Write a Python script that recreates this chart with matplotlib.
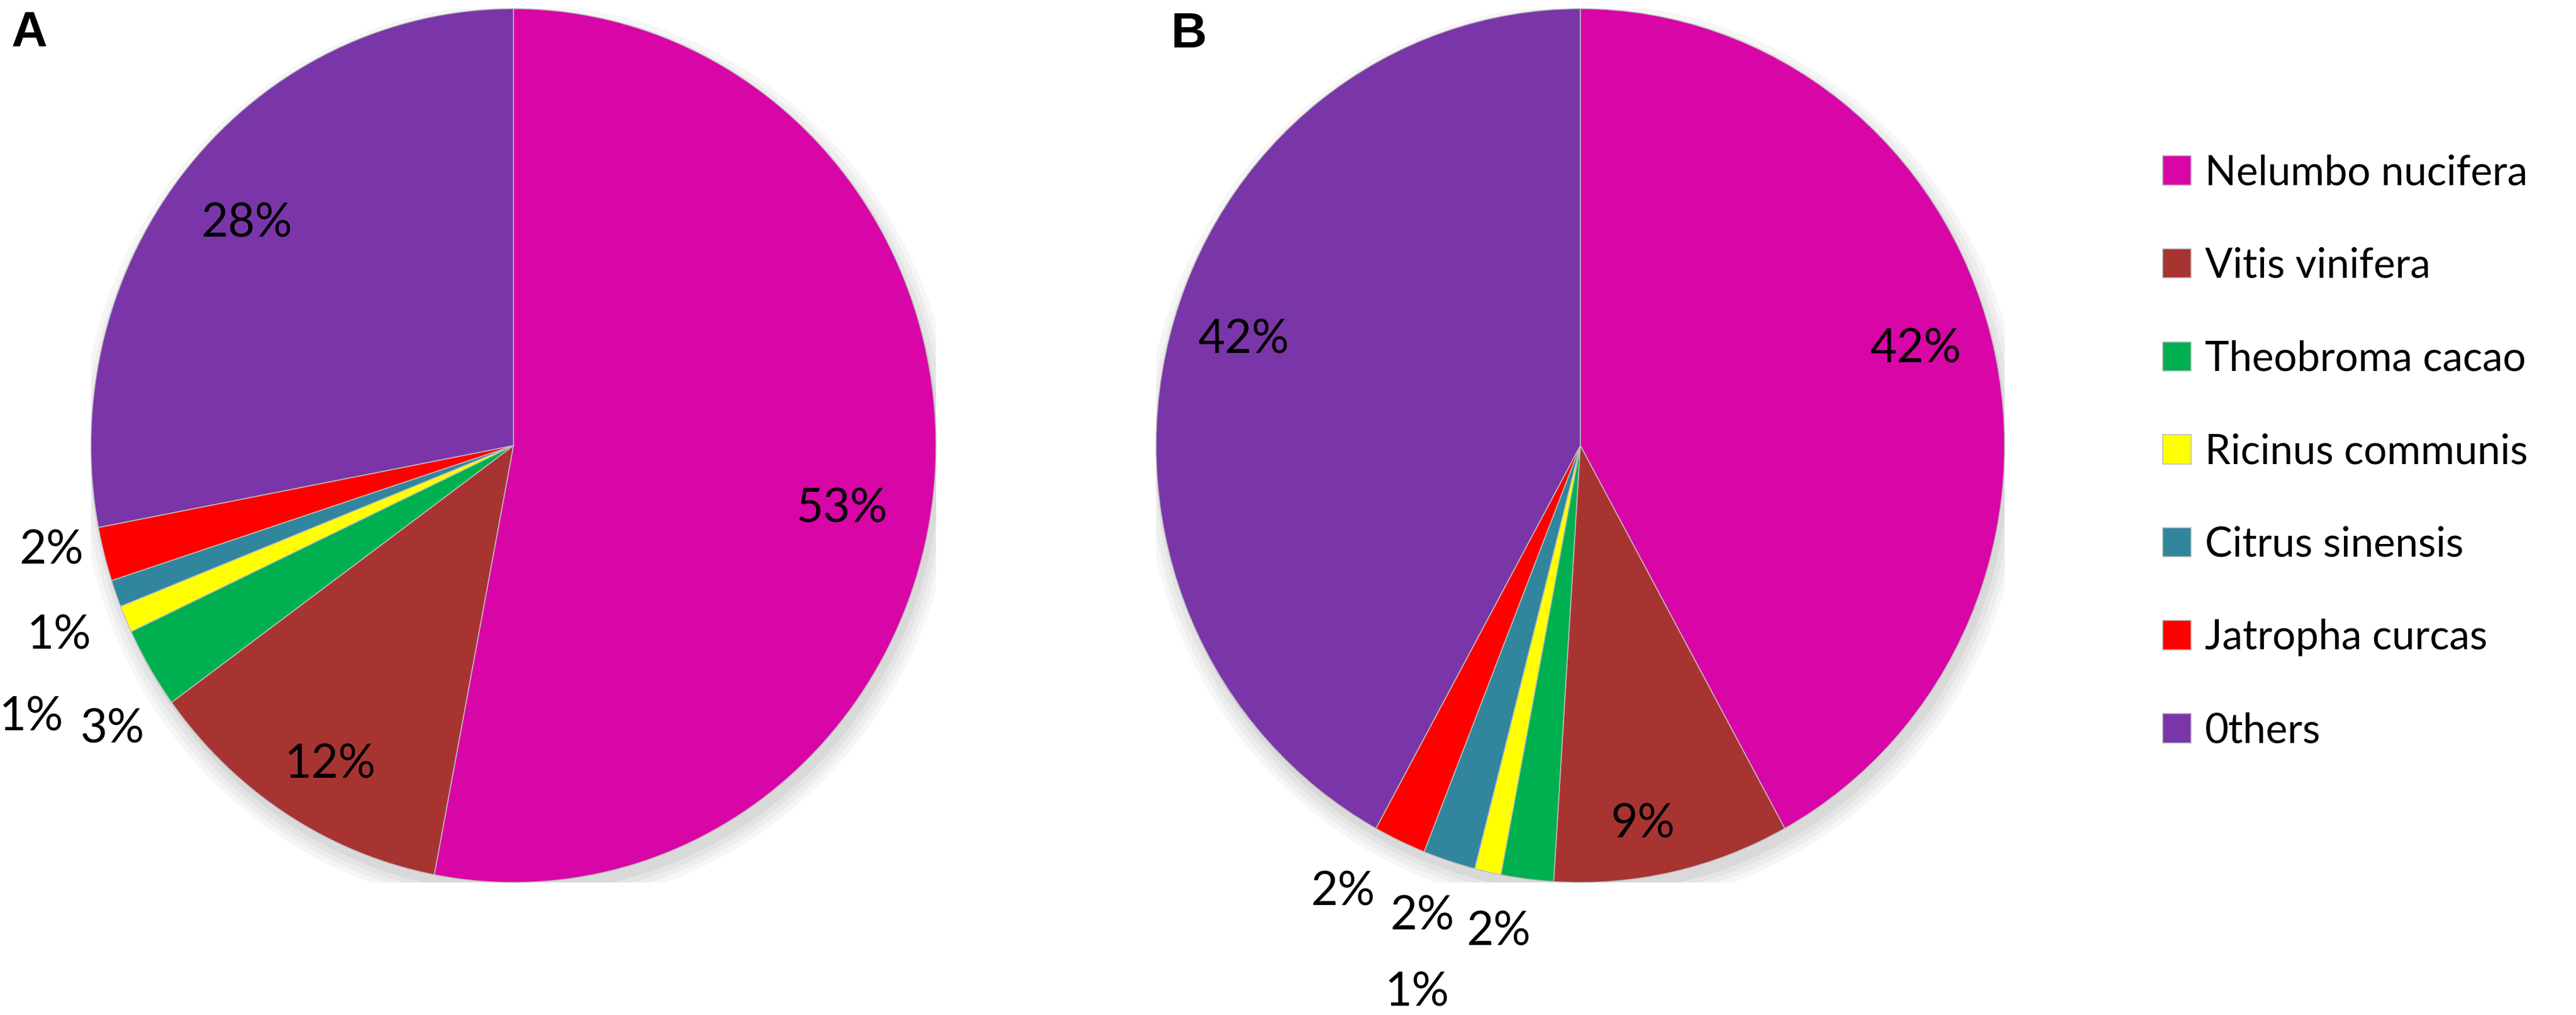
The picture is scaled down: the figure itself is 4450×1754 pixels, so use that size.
import numpy as np
import matplotlib
matplotlib.use('Agg')
import matplotlib.pyplot as plt
from matplotlib.patches import Ellipse

# 데이터
species = ['Nelumbo nucifera', 'Vitis vinifera', 'Theobroma cacao', 'Ricinus communis',
           'Citrus sinensis', 'Jatropha curcas', '0thers']
share_a = [53, 12, 3, 1, 1, 2, 28]
share_b = [42, 9, 2, 1, 2, 2, 42]
colors = ['#D805A7', '#A83432', '#00B050', '#FFFF00', '#31869E', '#FF0000', '#7A36A8']

# 라벨 위치 (반지름, 각도 보정)
label_r_a = [0.79, 0.85, 1.15, 1.30, 1.16, 1.12, 0.81]
label_dt_a = [-5.2, 1.7, 3.8, 5.2, 2.2, -2.0, 0.8]
label_r_b = [0.82, 0.88, 1.13, 1.31, 1.14, 1.165, 0.83]
label_dt_b = [1.2, -2.9, -2.6, -4.5, -1.1, -3.5, -2.5]

plt.rcParams['font.family'] = ['Lato', 'DejaVu Sans']

W, H = 4450, 1754
fig = plt.figure(figsize=(W / 100, H / 100), dpi=100)


def draw_pie(cx, cy, rx, ry, values, label_r, label_dt, tag, tag_xy):
    ax = fig.add_axes([(cx - rx) / W, (H - cy - ry) / H, 2 * rx / W, 2 * ry / H])
    # 그림자
    for k, a in enumerate([0.05, 0.05, 0.06, 0.07]):
        s = 1.0 + 0.012 * (3 - k)
        ax.add_patch(Ellipse((0.01, -0.025), 2 * s, 2 * s, color='#555555', alpha=a, lw=0, zorder=0))
    wedges, _ = ax.pie(values, colors=colors, startangle=90, counterclock=False,
                       wedgeprops={'edgecolor': '#bdbdbd', 'linewidth': 1.2})
    for w in wedges:
        w.set_zorder(2)
    ax.set_aspect('auto')
    ax.set_xlim(-1, 1)
    ax.set_ylim(-1, 1)
    ax.axis('off')
    total = float(sum(values))
    cum = 0.0
    for v, r, dt in zip(values, label_r, label_dt):
        mid = 90 - 360 * (cum + v / 2) / total + dt
        cum += v
        t = np.deg2rad(mid)
        ax.text(r * np.cos(t), r * np.sin(t), f'{v}%', ha='center', va='center',
                fontsize=58, color='black', zorder=5, clip_on=False)
    fig.text(tag_xy[0] / W, 1 - tag_xy[1] / H, tag, fontsize=62, fontweight='bold',
             family='Liberation Sans', ha='left', va='top')
    return wedges


wedges_a = draw_pie(887, 770, 730, 755, share_a, label_r_a, label_dt_a, 'A', (20, 18))
draw_pie(2730, 770, 733, 755, share_b, label_r_b, label_dt_b, 'B', (2022, 20))

fig.legend(wedges_a, species, loc='upper left', bbox_to_anchor=(3708 / W, 1 - 238 / H),
           frameon=False, fontsize=51, handlelength=0.69, handleheight=0.72,
           handletextpad=0.34, labelspacing=1.35, borderaxespad=0)

fig.savefig('out.png', dpi=100, facecolor='white')
